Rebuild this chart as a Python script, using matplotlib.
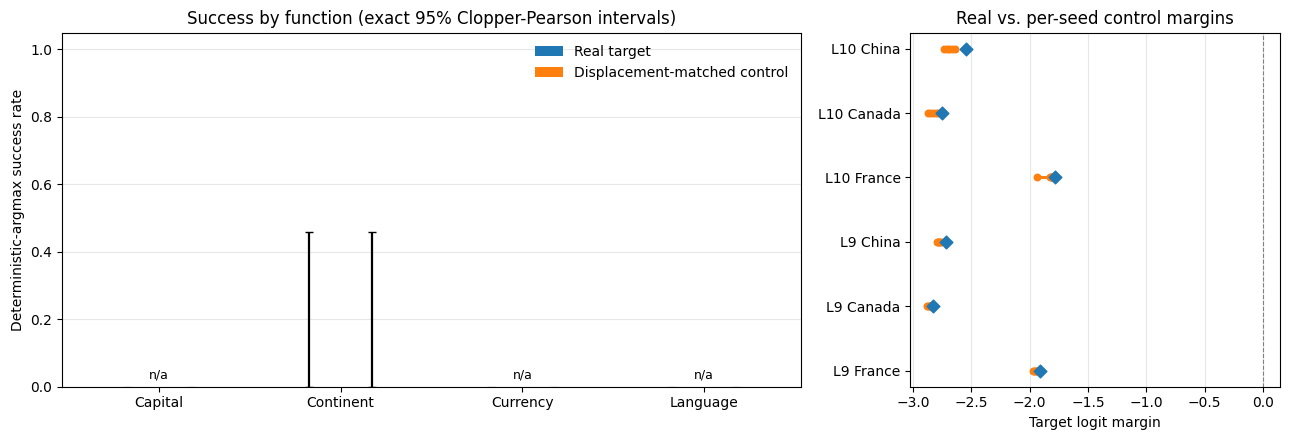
import matplotlib.pyplot as plt
import numpy as np

# left panel: success rates by function
functions = ["Capital", "Continent", "Currency", "Language"]
real_rate = [0.0, 0.0, 0.0, 0.0]
ctrl_rate = [0.0, 0.0, 0.0, 0.0]
real_hi = [0.0, 0.459, 0.0, 0.0]
ctrl_hi = [0.0, 0.459, 0.0, 0.0]
n_trials = [0, 6, 0, 0]

# right panel: logit margins
conditions = ["L9 France", "L9 Canada", "L9 China", "L10 France", "L10 Canada", "L10 China"]
real_margin = [-1.908, -2.829, -2.714, -1.783, -2.754, -2.546]
ctrl_margins = [
    [-1.975, -1.965, -1.955, -1.948, -1.940],
    [-2.877, -2.868, -2.860, -2.853, -2.846],
    [-2.795, -2.785, -2.775, -2.765, -2.755],
    [-1.933, -1.825, -1.818, -1.812, -1.808],
    [-2.870, -2.850, -2.830, -2.805, -2.780],
    [-2.735, -2.710, -2.690, -2.665, -2.640],
]

blue = "#1f77b4"
orange = "#ff7f0e"

fig, (ax1, ax2) = plt.subplots(1, 2, figsize=(12.89, 4.4), dpi=100,
                               gridspec_kw={"width_ratios": [2, 1]})
fig.subplots_adjust(left=0.048, right=0.993, bottom=0.121, top=0.926, wspace=0.197)

x = np.arange(len(functions))
w = 0.35
ax1.bar(x - w / 2, real_rate, w, color=blue, label="Real target")
ax1.bar(x + w / 2, ctrl_rate, w, color=orange, label="Displacement-matched control")
for i in range(len(functions)):
    col = "black" if n_trials[i] > 0 else "lightgray"
    ax1.errorbar(x[i] - w / 2, real_rate[i], yerr=[[0], [real_hi[i] - real_rate[i]]],
                 fmt="none", ecolor=col, capsize=3, elinewidth=1.6)
    ax1.errorbar(x[i] + w / 2, ctrl_rate[i], yerr=[[0], [ctrl_hi[i] - ctrl_rate[i]]],
                 fmt="none", ecolor=col, capsize=3, elinewidth=1.6)
    if n_trials[i] == 0:
        ax1.text(x[i], 0.015, "n/a", ha="center", va="bottom", fontsize=9)
ax1.set_xticks(x)
ax1.set_xticklabels(functions)
ax1.set_ylim(0, 1.05)
ax1.set_ylabel("Deterministic-argmax success rate")
ax1.set_title("Success by function (exact 95% Clopper-Pearson intervals)")
ax1.grid(axis="y", alpha=0.3)
ax1.set_axisbelow(True)
ax1.legend(frameon=False, loc="upper right")

ypos = np.arange(len(conditions))
for i in range(len(conditions)):
    c = ctrl_margins[i]
    ax2.plot([min(c), max(c)], [ypos[i], ypos[i]], color=orange, lw=2.2, zorder=2)
    ax2.scatter(c, [ypos[i]] * len(c), color=orange, s=22, zorder=3)
ax2.scatter(real_margin, ypos, color=blue, marker="D", s=42, zorder=4)
ax2.axvline(0, color="gray", ls="--", lw=0.8)
ax2.set_yticks(ypos)
ax2.set_yticklabels(conditions)
ax2.set_xlabel("Target logit margin")
ax2.set_title("Real vs. per-seed control margins")
ax2.grid(axis="x", alpha=0.3)
ax2.set_axisbelow(True)

plt.savefig("out.png")
